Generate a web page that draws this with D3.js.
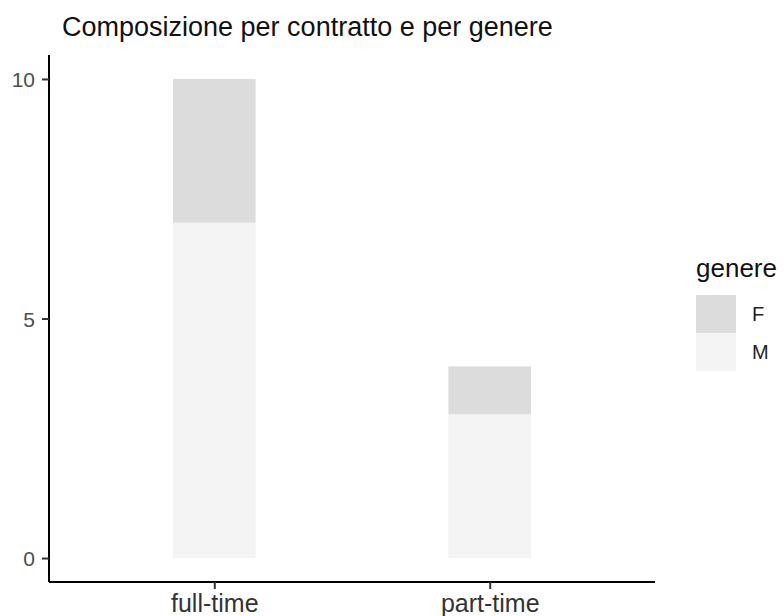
<!DOCTYPE html>
<html>
<head>
<meta charset="utf-8">
<script src="https://cdn.jsdelivr.net/npm/d3@7"></script>
<style>
  body { margin: 0; background: #fff; }
  text { font-family: "Liberation Sans", Arial, sans-serif; }
</style>
</head>
<body>
<svg width="784" height="616"></svg>
<script>
// data
const contratti = ["full-time", "part-time"];
const generi = ["F", "M"];
const valoriM = [7, 3];
const valoriF = [3, 1];
const yTicks = [0, 5, 10];
const colori = ["#dcdcdc", "#f4f4f4"];

const svg = d3.select("svg");

const rows = contratti.map((c, i) => ({ contratto: c, M: valoriM[i], F: valoriF[i] }));

// M at bottom, F stacked on top
const stack = d3.stack().keys(["M", "F"]);
const series = stack(rows);

const xScale = d3.scalePoint()
  .domain(contratti)
  .range([49, 655])
  .padding(0.6);

const barW = xScale.step() * 0.3;

const yScale = d3.scaleLinear()
  .domain([-0.5, 10.5])
  .range([582, 55]);

const color = d3.scaleOrdinal().domain(generi).range(colori);

// bars
svg.append("g")
  .selectAll("g")
  .data(series)
  .join("g")
  .attr("fill", (s) => color(s.key))
  .selectAll("rect")
  .data((s) => s)
  .join("rect")
  .attr("x", (d) => xScale(d.data.contratto) - barW / 2)
  .attr("y", (d) => yScale(d[1]))
  .attr("width", barW)
  .attr("height", (d) => yScale(d[0]) - yScale(d[1]));

// y axis
const yAxis = svg.append("g")
  .attr("transform", "translate(49,0)")
  .call(d3.axisLeft(yScale).tickValues(yTicks).tickSize(7).tickPadding(7));
yAxis.select(".domain").attr("stroke", "#000").attr("stroke-width", 2)
  .attr("d", "M0,55V582");
yAxis.selectAll(".tick line").attr("stroke", "#333").attr("stroke-width", 2);
yAxis.selectAll(".tick text")
  .attr("fill", "#4d4d4d")
  .style("font-size", "21px")
  .attr("dy", "0.36em");

// x axis
const xAxis = svg.append("g")
  .attr("transform", "translate(0,582)")
  .call(d3.axisBottom(xScale).tickSize(7).tickPadding(6));
xAxis.select(".domain").attr("stroke", "#000").attr("stroke-width", 2)
  .attr("d", "M49,0H655");
xAxis.selectAll(".tick line").attr("stroke", "#333").attr("stroke-width", 2);
xAxis.selectAll(".tick text")
  .attr("fill", "#333")
  .style("font-size", "25px")
  .attr("y", 30)
  .attr("dy", 0);

// title
svg.append("text")
  .attr("x", 62)
  .attr("y", 36)
  .style("font-size", "27px")
  .attr("fill", "#111")
  .text("Composizione per contratto e per genere");

// legend
const legend = svg.append("g").attr("transform", "translate(696,0)");
legend.append("text")
  .attr("x", 0)
  .attr("y", 277)
  .style("font-size", "26px")
  .attr("fill", "#111")
  .text("genere");

const keyH = 38;
const item = legend.selectAll("g.item")
  .data(generi)
  .join("g")
  .attr("class", "item")
  .attr("transform", (d, i) => `translate(0,${295 + i * keyH})`);

item.append("rect")
  .attr("width", 40)
  .attr("height", keyH)
  .attr("fill", (d) => color(d));

item.append("text")
  .attr("x", 56)
  .attr("y", keyH / 2 + 7)
  .style("font-size", "20px")
  .attr("fill", "#222")
  .text((d) => d);
</script>
</body>
</html>
